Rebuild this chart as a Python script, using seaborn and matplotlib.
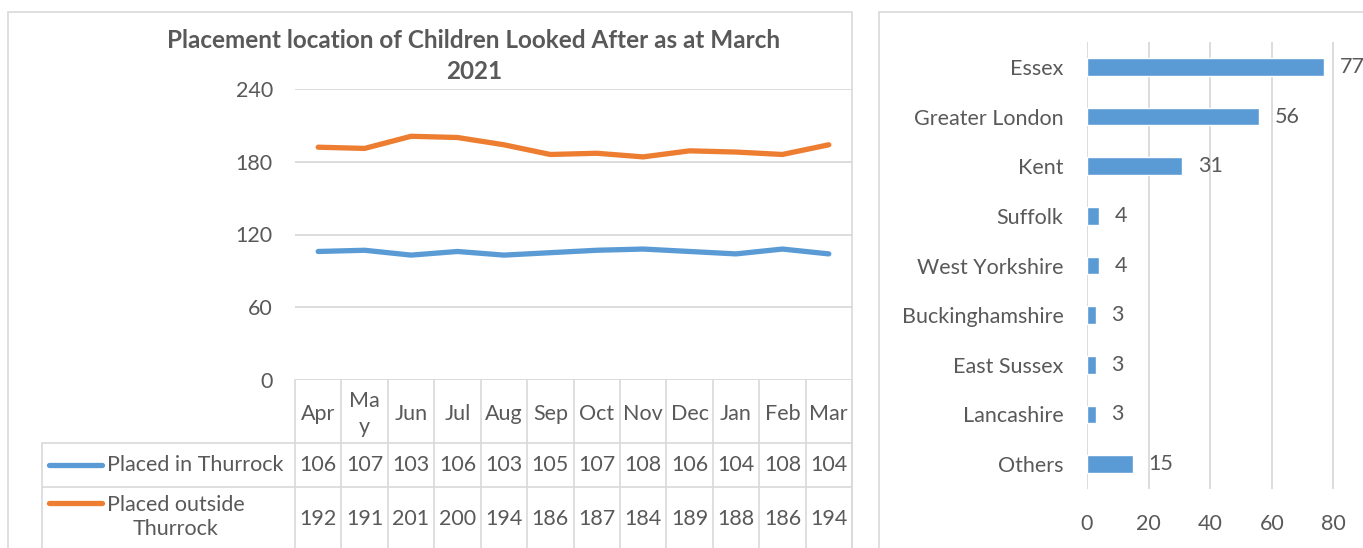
import matplotlib
matplotlib.use("Agg")
import matplotlib.pyplot as plt
import matplotlib.transforms as mtransforms
from matplotlib.patches import Rectangle
from matplotlib.lines import Line2D
import seaborn as sns
import pandas as pd

# data
months = ['Apr', 'Ma\ny', 'Jun', 'Jul', 'Aug', 'Sep', 'Oct', 'Nov', 'Dec', 'Jan', 'Feb', 'Mar']
placed_in = [106, 107, 103, 106, 103, 105, 107, 108, 106, 104, 108, 104]
placed_out = [192, 191, 201, 200, 194, 186, 187, 184, 189, 188, 186, 194]
series_names = ['Placed in Thurrock', 'Placed outside\nThurrock']

regions = ['Essex', 'Greater London', 'Kent', 'Suffolk', 'West Yorkshire',
           'Buckinghamshire', 'East Sussex', 'Lancashire', 'Others']
region_counts = [77, 56, 31, 4, 4, 3, 3, 3, 15]

BLUE = '#5B9BD5'
ORANGE = '#ED7D31'
TEXT = '#595959'
GRID = '#D9D9D9'
FS = 15.5

sns.set_theme(style='white')
plt.rcParams['font.family'] = ['Lato', 'DejaVu Sans']

W, H = 1363, 548
fig = plt.figure(figsize=(W / 100, H / 100), dpi=100)


def fx(px):
    return px / W


def fy(py):
    return 1 - py / H


# chart borders
fig.add_artist(Rectangle((fx(8), fy(560)), fx(852) - fx(8), fy(12) - fy(560),
                         transform=fig.transFigure, fill=False, ec=GRID, lw=1.2))
fig.add_artist(Rectangle((fx(879), fy(560)), fx(1400) - fx(879), fy(12) - fy(560),
                         transform=fig.transFigure, fill=False, ec=GRID, lw=1.2))

# ---- left: line chart with data table ----
ax1 = fig.add_axes([fx(295), fy(380), fx(852) - fx(295), fy(89) - fy(380)])
x_idx = list(range(len(months)))
df = pd.DataFrame({
    'x': x_idx * 2,
    'value': placed_in + placed_out,
    'series': [series_names[0]] * len(months) + [series_names[1]] * len(months),
})
sns.lineplot(data=df, x='x', y='value', hue='series', palette=[BLUE, ORANGE],
             linewidth=3.8, legend=False, ax=ax1)
ax1.set_xlim(-0.5, len(months) - 0.5)
ax1.set_ylim(0, 240)
ax1.set_yticks([0, 60, 120, 180, 240])
ax1.set_xticks([])
ax1.set_xlabel('')
ax1.set_ylabel('')
ax1.grid(axis='y', color=GRID, lw=1.3)
ax1.set_axisbelow(True)
for s in ax1.spines.values():
    s.set_visible(False)
ax1.tick_params(axis='y', length=0, pad=16, labelsize=FS, labelcolor=TEXT)

fig.text(fx(474), fy(56), 'Placement location of Children Looked After as at March\n2021',
         ha='center', va='center', fontsize=17.5, fontweight='bold', color=TEXT,
         linespacing=1.38)

# table under the plot
tr_data = mtransforms.blended_transform_factory(ax1.transData, ax1.transAxes)
ax_h = fy(89) - fy(380)


def ay(py):
    return (fy(py) - fy(380)) / ax_h


def axx(px):
    return (px - 295) / (852 - 295)


for i in range(len(months) + 1):
    ax1.add_line(Line2D([i - 0.5, i - 0.5], [0, ay(560)], transform=tr_data,
                        color=GRID, lw=1.2, clip_on=False))
for py in [443, 487]:
    ax1.add_line(Line2D([axx(42), 1], [ay(py), ay(py)], transform=ax1.transAxes,
                        color=GRID, lw=1.2, clip_on=False))
ax1.add_line(Line2D([axx(42), axx(42)], [ay(443), ay(560)], transform=ax1.transAxes,
                    color=GRID, lw=1.2, clip_on=False))

for i, m in enumerate(months):
    ax1.text(i, ay(414), m, transform=tr_data, ha='center', va='center',
             fontsize=FS, color=TEXT, linespacing=1.4)
    ax1.text(i, ay(465), str(placed_in[i]), transform=tr_data, ha='center',
             va='center', fontsize=FS, color=TEXT)
    ax1.text(i, ay(519), str(placed_out[i]), transform=tr_data, ha='center',
             va='center', fontsize=FS, color=TEXT)

for name, col, py_line, py_text in [(series_names[0], BLUE, 465, 465),
                                    (series_names[1], ORANGE, 503, 517)]:
    ax1.add_line(Line2D([axx(49), axx(102)], [ay(py_line), ay(py_line)],
                        transform=ax1.transAxes, color=col, lw=3.8,
                        solid_capstyle='round', clip_on=False))
    ax1.text(axx(107), ay(py_text), name, transform=ax1.transAxes, ha='left',
             va='center', fontsize=FS, color=TEXT, multialignment='center',
             linespacing=1.3)

# ---- right: horizontal bar chart ----
ax2 = fig.add_axes([fx(1087), fy(489), fx(1395) - fx(1087), fy(42) - fy(489)])
sns.barplot(x=region_counts, y=regions, orient='h', color=BLUE, width=0.35,
            saturation=1, ax=ax2)
ax2.set_xlim(0, 100)
ax2.set_xticks([0, 20, 40, 60, 80])
for gx in [0, 20, 40, 60, 80, 100]:
    ax2.axvline(gx, color=GRID, lw=1.3, zorder=0)
for s in ax2.spines.values():
    s.set_visible(False)
ax2.tick_params(axis='y', length=0, pad=17, labelsize=FS, labelcolor=TEXT)
ax2.tick_params(axis='x', length=0, pad=18, labelsize=FS, labelcolor=TEXT)
ax2.bar_label(ax2.containers[0], padding=11, fontsize=FS, color=TEXT)

fig.savefig('out.png', dpi=100)
